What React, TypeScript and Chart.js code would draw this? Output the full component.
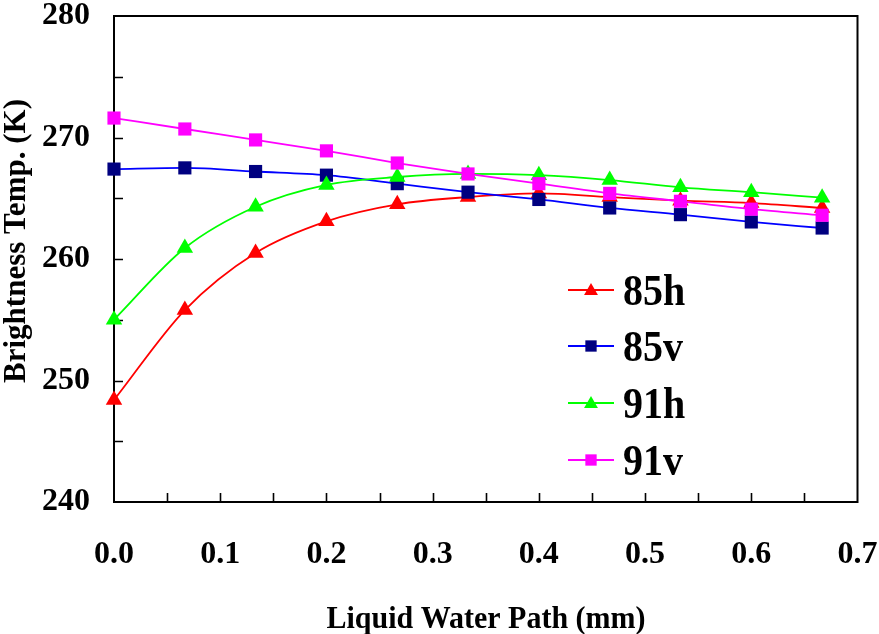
import React, { useEffect, useRef } from "react";
import { Chart, registerables } from "chart.js";

Chart.register(...registerables);

// ---- data ----
const lwp = [0, 0.0667, 0.1333, 0.2, 0.2667, 0.3333, 0.4, 0.4667, 0.5333, 0.6, 0.6667];
const tb85h = [248.4, 255.8, 260.5, 263.1, 264.5, 265.1, 265.4, 265.1, 264.8, 264.6, 264.2];
const tb85v = [267.4, 267.5, 267.2, 266.9, 266.2, 265.5, 264.9, 264.2, 263.65, 263.05, 262.55];
const tb91h = [255.0, 260.9, 264.3, 266.1, 266.75, 267.0, 266.9, 266.5, 265.9, 265.5, 265.05];
const tb91v = [271.6, 270.7, 269.8, 268.9, 267.9, 267.0, 266.2, 265.4, 264.75, 264.1, 263.6];
const seriesNames = ["85h", "85v", "91h", "91v"];
const xTitle = "Liquid Water Path (mm)";
const yTitle = "Brightness Temp. (K)";
const xMin = 0, xMax = 0.7, xStep = 0.1, xMinorStep = 0.05;
const yMin = 240, yMax = 280, yStep = 10, yMinorStep = 5;

const SERIF = "'Liberation Serif', 'Times New Roman', serif";

const styles = [
  { line: "#FF0000", point: "#FF0000", shape: "triangle" },
  { line: "#0000FF", point: "#000080", shape: "rect" },
  { line: "#00FF00", point: "#00FF00", shape: "triangle" },
  { line: "#FF00FF", point: "#FF00FF", shape: "rect" },
];

const seriesValues = [tb85h, tb85v, tb91h, tb91v];

function drawMarker(ctx: CanvasRenderingContext2D, shape: string, x: number, y: number, r: number) {
  ctx.beginPath();
  if (shape === "triangle") {
    const h = Math.sqrt(3) / 2 * r;
    ctx.moveTo(x, y - r);
    ctx.lineTo(x + h, y + r / 2);
    ctx.lineTo(x - h, y + r / 2);
    ctx.closePath();
  } else {
    const s = r * Math.SQRT1_2;
    ctx.rect(x - s, y - s, 2 * s, 2 * s);
  }
  ctx.fill();
}

const zeroPadding = (s: any) => {
  s.paddingTop = 0;
  s.paddingBottom = 0;
  s.paddingLeft = 0;
  s.paddingRight = 0;
};

const framePlugin = {
  id: "frameTicks",
  beforeDatasetsDraw(chart: any) {
    const { ctx, chartArea: ca, scales } = chart;
    ctx.save();
    ctx.strokeStyle = "#000";
    ctx.lineWidth = 2;
    ctx.strokeRect(ca.left, ca.top, ca.right - ca.left, ca.bottom - ca.top);
    ctx.lineWidth = 1.6;
    const tl = 9;
    ctx.beginPath();
    for (let k = 1; xMin + k * xMinorStep < xMax - 1e-9; k++) {
      const px = Math.round(scales.x.getPixelForValue(xMin + k * xMinorStep)) + 0.5;
      ctx.moveTo(px, ca.bottom);
      ctx.lineTo(px, ca.bottom - tl);
    }
    for (let k = 1; yMin + k * yMinorStep < yMax - 1e-9; k++) {
      const py = Math.round(scales.y.getPixelForValue(yMin + k * yMinorStep)) + 0.5;
      ctx.moveTo(ca.left, py);
      ctx.lineTo(ca.left + tl, py);
    }
    ctx.stroke();
    ctx.restore();
  },
  afterDraw(chart: any) {
    const { ctx } = chart;
    ctx.save();
    ctx.fillStyle = "#000";
    // x title
    ctx.font = `bold 30px ${SERIF}`;
    ctx.textAlign = "center";
    ctx.textBaseline = "alphabetic";
    ctx.save();
    ctx.translate(486, 628);
    ctx.scale(1, 1.06);
    ctx.fillText(xTitle, 0, 0);
    ctx.restore();
    // y title
    ctx.save();
    ctx.font = `bold 31px ${SERIF}`;
    ctx.translate(25, 241);
    ctx.rotate(-Math.PI / 2);
    ctx.fillText(yTitle, 0, 0);
    ctx.restore();
    // legend
    const lx0 = 568, lx1 = 614, tx = 623;
    const rows = [290, 346, 403, 460];
    seriesNames.forEach((name, i) => {
      const st = styles[i];
      const y = rows[i];
      ctx.strokeStyle = st.line;
      ctx.lineWidth = 2;
      ctx.beginPath();
      ctx.moveTo(lx0, y);
      ctx.lineTo(lx1, y);
      ctx.stroke();
      ctx.fillStyle = st.point;
      drawMarker(ctx, st.shape, (lx0 + lx1) / 2, st.shape === "triangle" ? y + 1 : y, 8);
      ctx.fillStyle = "#000";
      ctx.font = `bold 40px ${SERIF}`;
      ctx.textAlign = "left";
      ctx.save();
      ctx.translate(tx, y + 15);
      ctx.scale(1, 1.12);
      ctx.fillText(name, 0, 0);
      ctx.restore();
    });
    ctx.restore();
  },
};

export default function App() {
  const ref = useRef<HTMLCanvasElement | null>(null);
  useEffect(() => {
    if (!ref.current) return;
    const datasets = seriesNames.map((name, i) => ({
      label: name,
      data: lwp.map((x, j) => ({ x, y: seriesValues[i][j] })),
      borderColor: styles[i].line,
      backgroundColor: styles[i].point,
      pointBackgroundColor: styles[i].point,
      pointBorderColor: styles[i].point,
      pointBorderWidth: 0,
      pointStyle: styles[i].shape,
      pointRadius: styles[i].shape === "triangle" ? 9.5 : 9.3,
      borderWidth: 1.8,
      cubicInterpolationMode: "monotone" as const,
      fill: false,
      clip: false as any,
      order: 3 - i,
    }));
    const chart = new Chart(ref.current, {
      type: "line",
      data: { datasets },
      plugins: [framePlugin],
      options: {
        responsive: false,
        animation: false,
        events: [],
        layout: { padding: { top: 16, right: 21.5, bottom: 0, left: 0 } },
        plugins: { legend: { display: false }, tooltip: { enabled: false }, title: { display: false } },
        scales: {
          x: {
            type: "linear",
            min: xMin,
            max: xMax,
            grid: { display: false, drawTicks: false, tickLength: 0 },
            border: { display: false },
            ticks: {
              stepSize: xStep,
              color: "#000",
              padding: 37,
              maxRotation: 0,
              autoSkip: false,
              font: { family: SERIF, size: 32, weight: "bold", lineHeight: 1 },
              callback: (v: any) => Number(v).toFixed(1),
            },
            afterFit: (s: any) => { s.height = 132; zeroPadding(s); },
          },
          y: {
            type: "linear",
            min: yMin,
            max: yMax,
            grid: { display: false, drawTicks: false, tickLength: 0 },
            border: { display: false },
            ticks: {
              stepSize: yStep,
              color: "#000",
              padding: 24,
              font: { family: SERIF, size: 32, weight: "bold", lineHeight: 1 },
              callback: (v: any) => String(Math.round(Number(v))),
            },
            afterFit: (s: any) => { s.width = 114; zeroPadding(s); },
          },
        },
      },
    });
    return () => chart.destroy();
  }, []);
  return (
    <div style={{ position: "absolute", left: 0, top: 0, width: 879, height: 634, background: "#fff" }}>
      <canvas ref={ref} width={879} height={634} style={{ display: "block" }} />
    </div>
  );
}
